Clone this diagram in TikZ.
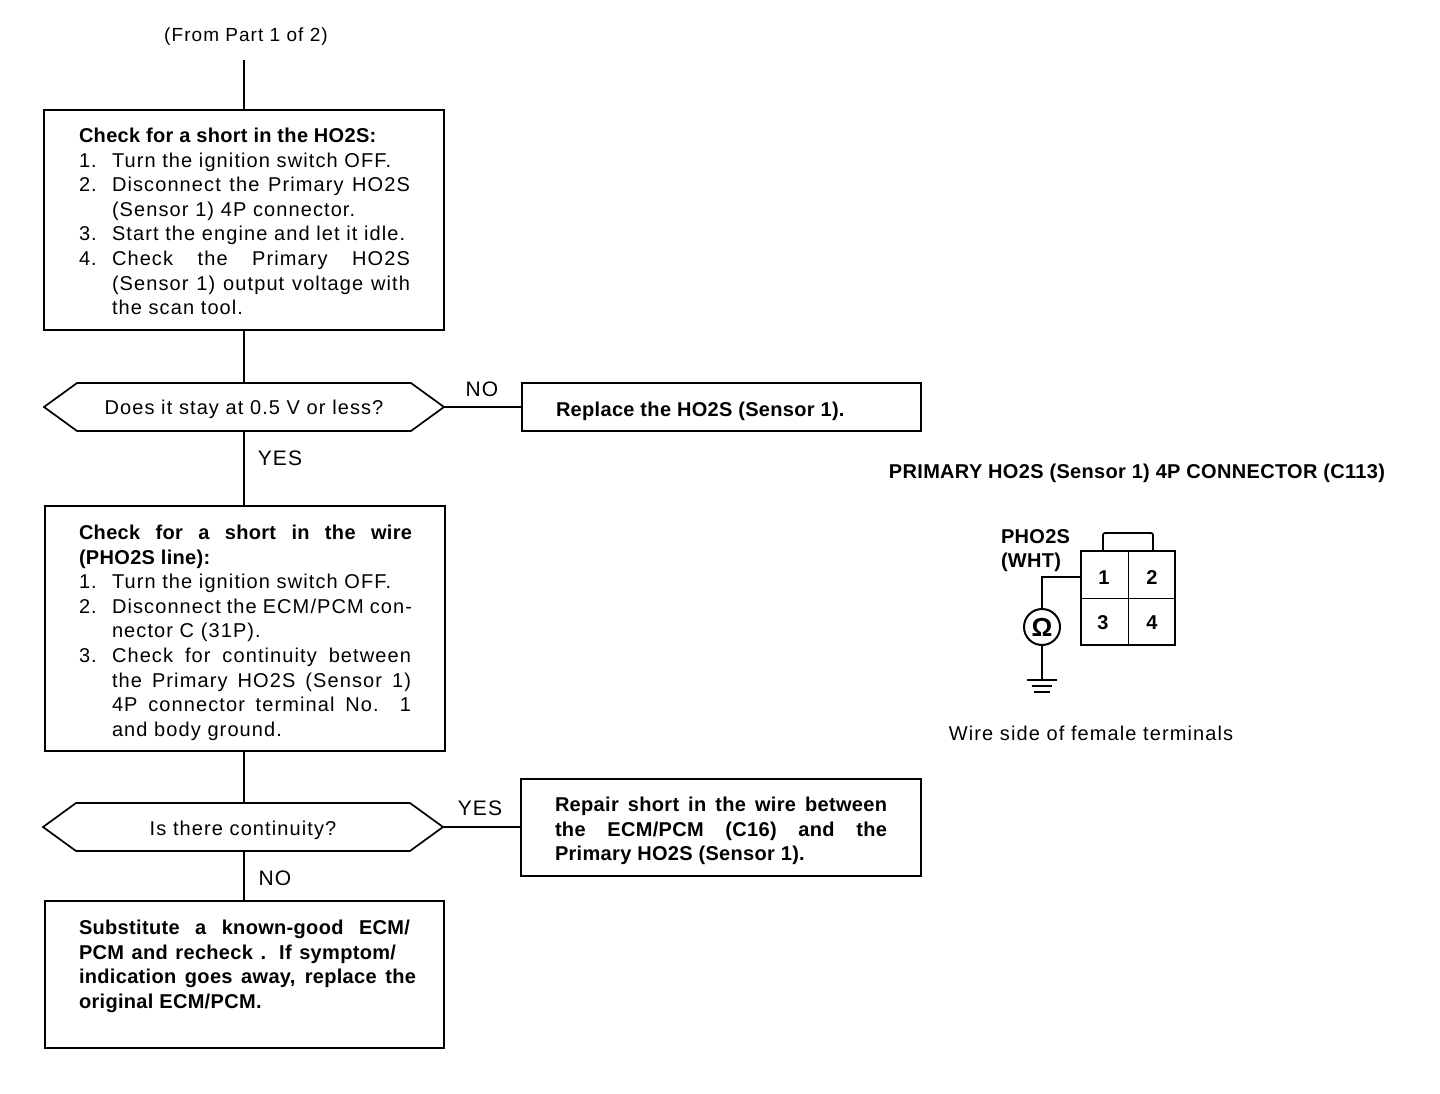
\documentclass[tikz,border=0pt]{standalone}
\usepackage{fontspec}
\setmainfont[LetterSpace=5.5,BoldFeatures={LetterSpace=1.6}]{Liberation Sans}
\usetikzlibrary{shapes.symbols}
\newcommand{\fitl}[2]{\makebox[#1pt][s]{#2}}
\newcommand{\numl}[2]{\makebox[33pt][l]{#1}#2}
\newcommand{\indl}[1]{\hspace*{33pt}#1}
\tikzset{
  x=1pt,y=-1pt,
  ln/.style={line width=1.7pt,black},
  box/.style={draw,line width=1.7pt,inner sep=0pt,outer sep=0pt,anchor=north west},
  hex/.style={draw,line width=1.7pt,inner sep=0pt,outer sep=0pt,shape=signal,signal to=east and west,signal pointer angle=72,minimum width=400pt,minimum height=48pt,font=\fontsize{20}{24}\selectfont},
  hextext/.style={inner sep=0pt,outer sep=0pt,font=\fontsize{20}{24}\selectfont},
  txt/.style={anchor=north west,inner sep=0pt,outer sep=0pt,align=left,font=\fontsize{20}{24.6}\selectfont},
  btxt/.style={txt,font=\fontsize{20}{24.6}\selectfont\bfseries},
  lab/.style={inner sep=0pt,outer sep=0pt,font=\fontsize{21}{24}\selectfont},
  blab/.style={inner sep=0pt,outer sep=0pt,font=\fontsize{20}{24}\selectfont\bfseries},
}
\begin{document}
\begin{tikzpicture}
\useasboundingbox[fill=white] (0,0) rectangle (1440,1094);
% flowchart boxes
\node[box,minimum width=400pt,minimum height=220pt] (b1) at (44,110) {};
\node[hex] (h1) at (244,407) {};
\node[hextext] (h1t) at (244,409) {Does it stay at 0.5 V or less?};
\node[box,minimum width=399pt,minimum height=48pt] (b2) at (522,383) {};
\node[box,minimum width=400pt,minimum height=245pt] (b3) at (45,506) {};
\node[hex] (h2) at (243,827) {};
\node[hextext] (h2t) at (243,830) {Is there continuity?};
\node[box,minimum width=400pt,minimum height=97pt] (b4) at (521,779) {};
\node[box,minimum width=399pt,minimum height=147pt] (b5) at (45,901) {};
% texts in boxes
\node[txt] (t1) at (79,128) {\textbf{Check for a short in the HO2S:}\\
 \numl{1.}{Turn the ignition switch OFF.}\\
 \numl{2.}{\fitl{298}{Disconnect the Primary HO2S}}\\
 \indl{(Sensor 1) 4P connector.}\\
 \numl{3.}{Start the engine and let it idle.}\\
 \numl{4.}{\fitl{298}{Check the Primary HO2S}}\\
 \indl{\fitl{298}{(Sensor 1) output voltage with}}\\
 \indl{the scan tool.}};
\node[btxt] (t2) at (556,402) {Replace the HO2S (Sensor 1).};
\node[txt] (t3) at (79,525) {\textbf{\fitl{333}{Check for a short in the wire}}\\
 \textbf{(PHO2S line):}\\
 \numl{1.}{Turn the ignition switch OFF.}\\
 \numl{2.}{\fitl{300}{Disconnect the ECM/PCM con-}}\\
 \indl{nector C (31P).}\\
 \numl{3.}{\fitl{299}{Check for continuity between}}\\
 \indl{\fitl{299}{the Primary HO2S (Sensor 1)}}\\
 \indl{\fitl{299}{4P connector terminal No. 1}}\\
 \indl{and body ground.}};
\node[btxt] (t4) at (555,797) {\fitl{332}{Repair short in the wire between}\\
 \fitl{332}{the ECM/PCM (C16) and the}\\
 Primary HO2S (Sensor 1).};
\node[btxt] (t5) at (79,920) {\fitl{331}{Substitute a known-good ECM/}\\
 \fitl{317}{PCM and recheck . If symptom/}\\
 \fitl{337}{indication goes away, replace the}\\
 original ECM/PCM.};
% connectors
\node[lab,font=\fontsize{19}{24}\selectfont] (from) at (246,37) {(From Part 1 of 2)};
\coordinate (top) at (244,60);
\draw[ln] (top) -- (top |- b1.north);
\draw[ln] (b1.south -| top) -- (top |- h1.north);
\draw[ln] (top |- h1.south) -- (top |- b3.north);
\draw[ln] (top |- b3.south) -- (top |- h2.north);
\draw[ln] (top |- h2.south) -- (top |- b5.north);
\draw[ln] (h1.east) -- (h1.east -| b2.west);
\draw[ln] (h2.east) -- (h2.east -| b4.west);
\node[lab] (no1) at (482,389) {NO};
\node[lab] (yes1) at (280,458) {YES};
\node[lab] (yes2) at (480,808) {YES};
\node[lab] (no2) at (275,878) {NO};
% connector figure
\node[blab] (title) at (1137,473) {PRIMARY HO2S (Sensor 1) 4P CONNECTOR (C113)};
\node[box,minimum width=94pt,minimum height=94pt] (conn) at (1081,551) {};
\draw[line width=1pt] (conn.north) -- (conn.south);
\draw[line width=1pt] (conn.west) -- (conn.east);
\draw[ln,rounded corners=2pt] (1103,551) -- (1103,533) -- (1153,533) -- (1153,551);
\node[blab] (p1) at (1104,578) {1};
\node[blab] (p2) at (1152,578) {2};
\node[blab] (p3) at (1103,623) {3};
\node[blab] (p4) at (1152,623) {4};
\node[blab,anchor=west] (pho) at (1001,537) {PHO2S};
\node[blab,anchor=west] (wht) at (1001,562) {(WHT)};
\node[draw,circle,line width=2pt,minimum size=36pt,inner sep=0pt,outer sep=0pt,font=\fontsize{26}{26}\selectfont\bfseries] (ohm) at (1042,627) {Ω};
\coordinate (w) at (conn.west |- 0,577);
\draw[ln] (w) -- (ohm.north |- w) -- (ohm.north);
\coordinate (g) at (1042,680);
\draw[ln] (ohm.south) -- (g);
\draw[ln] (1027,680) -- (1057,680);
\draw[ln] (1032,686) -- (1052,686);
\draw[ln] (1034,692) -- (1050,692);
\node[lab,font=\fontsize{20}{24}\selectfont] (wire) at (1091,733) {Wire side of female terminals};
\end{tikzpicture}
\end{document}
